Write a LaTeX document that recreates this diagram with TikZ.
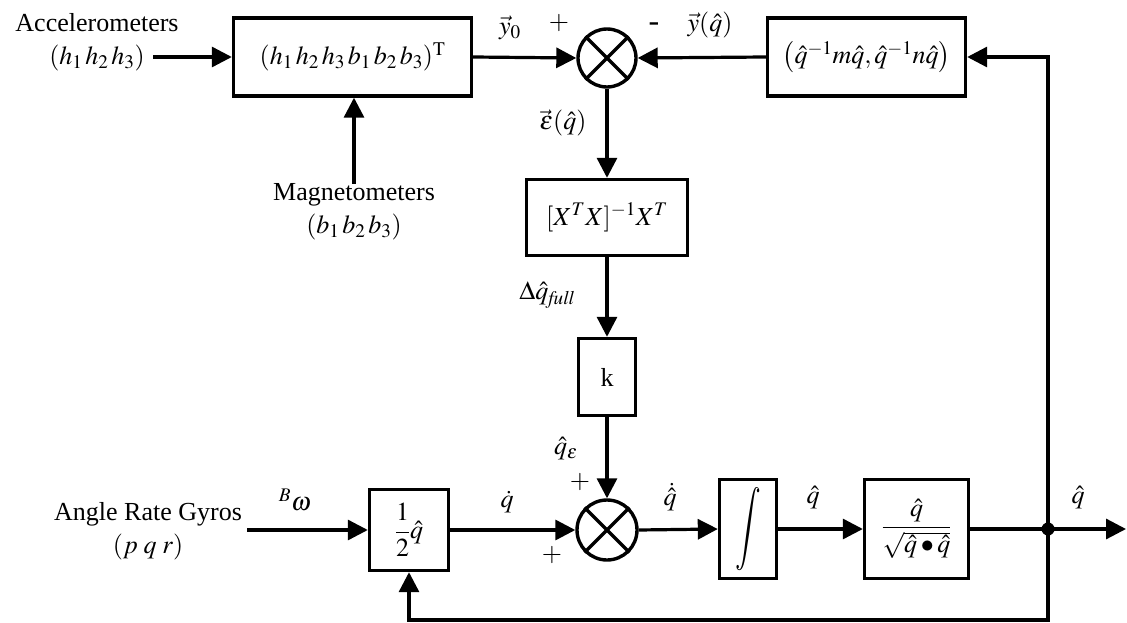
\documentclass[tikz,border=0pt]{standalone}
\usepackage{amsmath}
\usepackage{graphicx}
\usepackage{mathptmx}
\usepackage{fontspec}
\setmainfont{Liberation Serif}
\usetikzlibrary{arrows.meta}
\begin{document}
\begin{tikzpicture}[x=1pt,y=-1pt,
  every node/.style={font=\fontsize{26}{33}\selectfont, inner sep=0pt},
  wire/.style={line width=3.2pt},
  arr/.style={wire, -{Triangle[length=20pt,width=20pt]}},
  blk/.style={draw, line width=3.4pt, inner sep=0pt},
  sumnode/.style={draw, circle, line width=3.4pt, minimum size=58pt, inner sep=0pt},
  lbl/.style={inner sep=0pt}]
\useasboundingbox (0,0) rectangle (1127,623);

% blocks
\node[blk, minimum width=238pt, minimum height=78pt] (b1) at (352.5,57) {$(h_1\,h_2\,h_3\,b_1\,b_2\,b_3)^{\mathrm{T}}$};
\node[sumnode] (s1) at (607,58) {};
\node[blk, minimum width=198pt, minimum height=78pt] (b2) at (866.5,57) {$\bigl(\hat q^{-1} m\hat q, \hat q^{-1} n\hat q\bigr)$};
\node[blk, minimum width=161pt, minimum height=76pt] (bx) at (607,217.5) {$[X^{T}X]^{\mathrm{-1}}X^{T}$};
\node[blk, minimum width=57pt, minimum height=77pt] (bk) at (607,377) {k};
\node[sumnode, minimum size=60pt] (s2) at (607,530) {};
\node[blk, minimum width=79pt, minimum height=81pt] (bh) at (409,530) {$\dfrac{1}{2}\hat q$};
\node[blk, minimum width=57pt, minimum height=99pt] (bi) at (748,529) {\scalebox{1.1}[1.6]{$\displaystyle\int$}};
\node[blk, minimum width=104pt, minimum height=99pt] (bn) at (916.5,529) {$\dfrac{\hat q}{\sqrt{\hat q\bullet\hat q}}$};

% crosses in summing junctions
\foreach \s in {s1,s2}{
  \draw[line width=3.2pt] (\s.45) -- (\s.225);
  \draw[line width=3.2pt] (\s.135) -- (\s.315);
}

% inputs
\node[align=center] (acc) at (97,42) {Accelerometers\\$(h_1\,h_2\,h_3)$};
\coordinate (accin) at (153,57);
\node[align=center] (mag) at (354,212) {Magnetometers\\$(b_1\,b_2\,b_3)$};
\node[align=center] (gyr) at (148,531) {Angle Rate Gyros\\$(p\;q\;r)$};
\coordinate (gyrin) at (247,530);

% junction and output
\fill (1048,529) circle (6.5pt);
\coordinate (jn) at (1048,529);
\coordinate (out) at (1126,529);
\coordinate (tr) at (1048,57);
\coordinate (br) at (1048,620);
\coordinate (bl) at (409,620);

% connectors
\draw[arr] (accin) -- (b1.west);
\draw[arr] (mag.north) -- (mag.north |- b1.south);
\draw[arr] (b1.east) -- (s1.west);
\draw[arr] (b2.west) -- (s1.east);
\draw[arr] (s1.south) -- (bx.north);
\draw[arr] (bx.south) -- (bk.north);
\draw[arr] (bk.south) -- (s2.north);
\draw[arr] (gyrin) -- (bh.west);
\draw[arr] (bh.east) -- (s2.west);
\draw[arr] (s2.east) -- (bi.west);
\draw[arr] (bi.east) -- (bn.west);
\draw[wire] (bn.east) -- (jn);
\draw[arr] (jn) -- (out);
\draw[arr] (jn) -- (tr) -- (b2.east);
\draw[arr] (jn) -- (br) -- (bl) -- (bh.south);

% labels
\node[lbl] (ly0) at (510,28) {$\vec y_0$};
\node[lbl] (pl1) at (559,23) {$+$};
\node[lbl, font=\fontsize{32}{36}\selectfont] (mi1) at (654,27) {-};
\node[lbl] (lyq) at (710,25) {$\vec y(\hat q)$};
\node[lbl] (leps) at (563,123) {$\vec\varepsilon(\hat q)$};
\node[lbl] (ldq) at (547,295) {$\Delta\hat q_{\mathit{full}}$};
\node[lbl] (lqe) at (566,449) {$\hat q_\varepsilon$};
\node[lbl] (pl2) at (580,482) {$+$};
\node[lbl] (pl3) at (552,555) {$+$};
\node[lbl] (lw) at (295,500) {${}^{B}\omega$};
\node[lbl] (lqd) at (507,502) {$\dot q$};
\node[lbl] (lqhd) at (670,497) {$\dot{\hat q}$};
\node[lbl] (lqh) at (813,498) {$\hat q$};
\node[lbl] (lqo) at (1078,498) {$\hat q$};
\end{tikzpicture}
\end{document}
